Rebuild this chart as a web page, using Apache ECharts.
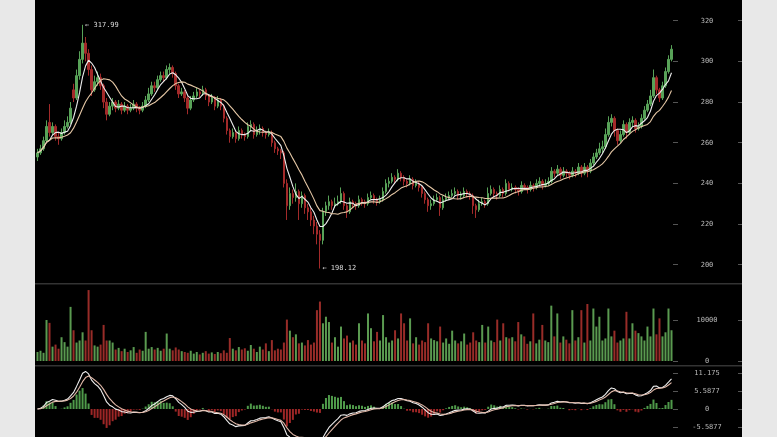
<!DOCTYPE html>
<html>
<head>
<meta charset="utf-8">
<script src="https://cdn.jsdelivr.net/npm/echarts@6.0.0/dist/echarts.min.js"></script>
<style>
html,body{margin:0;padding:0;background:#e8e8e8;width:777px;height:437px;overflow:hidden;}
#bg{position:absolute;left:35px;top:0;width:707px;height:437px;background:#000;}
#chart{position:absolute;left:0;top:0;width:777px;height:437px;}
</style>
</head>
<body>
<div id="bg"></div>
<div id="chart"></div>
<script>
const opens = [253,255,257,261,270,265,268,263,262,265,268,270,286,282,293,301,309,304,296,286,
290,292,288,280,274,278,280,277,279,276,278,276,277,279,277,276,278,281,284,288,
287,291,293,292,296,297,294,288,284,285,282,277,281,283,285,284,286,283,280,282,
278,281,278,272,266,263,265,262,266,264,263,268,269,264,266,267,265,264,265,260,
257,256,255,240,229,235,233,236,230,234,228,226,222,219,215,212,226,229,231,229,
230,231,235,229,226,231,230,229,232,231,230,233,234,232,231,232,236,240,241,243,
242,245,243,241,240,242,239,240,238,235,232,229,230,232,233,228,232,233,234,235,
236,234,234,236,235,234,229,227,230,231,230,235,237,235,234,237,235,240,237,238,
237,236,239,238,237,239,238,240,241,239,240,241,246,245,247,244,246,245,244,246,
245,248,245,248,246,250,253,255,257,258,264,270,272,266,261,264,269,265,270,271,
267,268,272,276,279,283,292,286,282,288,295,301];
const closes = [255,257,261,268,265,268,263,262,265,268,270,277,282,293,301,309,304,296,286,290,
292,288,280,274,278,280,277,279,276,278,276,277,279,277,276,278,281,284,288,287,
291,293,292,296,297,294,288,284,285,282,277,281,283,285,284,286,283,280,282,278,
281,278,272,266,263,265,262,266,264,263,268,269,264,266,267,265,264,265,260,257,
256,255,240,229,235,233,236,230,234,228,226,222,219,215,212,226,229,231,229,230,
231,235,229,226,231,230,229,232,231,230,233,234,232,231,232,236,240,241,243,242,
245,243,241,240,242,239,240,238,235,232,229,230,232,233,228,232,233,234,235,236,
234,234,236,235,234,229,227,230,231,230,235,237,235,234,237,235,240,237,238,237,
236,239,238,237,239,238,240,241,239,240,241,246,245,247,244,246,245,244,246,245,
248,245,248,246,250,253,255,257,258,264,270,272,266,261,264,269,265,270,271,267,
268,272,276,279,283,292,286,282,288,295,301,306];
const lows = [251,254,256,260,263,264,261,259,261,264,267,269,280,281,291,299,300,293,283,285,
288,286,277,271,273,276,275,276,274,275,274,275,276,275,274,275,277,280,283,285,
286,290,290,291,294,292,286,282,283,280,274,276,280,282,282,283,281,278,279,276,
277,276,270,264,260,262,260,261,262,261,262,266,262,263,264,263,262,263,258,255,
254,252,238,222,227,230,231,222,228,225,222,219,215,210,198.12,210,224,227,227,228,
229,230,227,223,225,228,227,228,229,228,229,232,230,229,230,231,235,238,240,240,
241,241,239,238,239,237,238,236,233,230,226,227,229,231,224,227,231,232,233,234,
232,232,233,233,232,225,223,226,229,228,229,234,233,232,233,233,234,236,236,235,
234,235,237,235,236,236,237,239,237,238,239,240,243,244,242,243,243,242,243,243,
244,243,244,243,245,249,252,254,255,257,263,268,263,259,260,263,262,264,268,265,
266,267,271,275,278,282,284,280,281,287,294,300];
const highs = [257,259,263,271,279,270,269,265,267,271,273,280,289,296,305,317.99,312,306,298,293,
295,294,289,282,280,282,281,281,280,280,279,279,281,280,278,280,283,287,290,290,
293,295,295,298,299,298,295,289,287,286,283,283,285,287,286,288,287,284,284,283,
283,282,279,273,267,267,266,268,267,265,270,271,270,268,269,268,266,267,266,261,
258,257,256,242,238,237,240,237,236,235,230,228,224,221,217,228,231,234,232,233,
234,238,236,230,233,232,231,234,233,232,235,236,235,233,234,238,242,243,245,244,
247,246,244,242,244,243,242,241,239,236,233,232,234,235,234,234,235,236,237,238,
237,236,238,237,236,235,230,232,233,232,238,239,238,236,239,238,242,241,240,239,
238,241,240,239,241,240,242,243,242,242,243,248,247,249,248,248,247,246,248,247,
250,249,250,249,252,255,257,260,261,267,273,274,273,267,266,271,270,272,273,272,
270,274,278,281,286,296,293,287,290,297,303,308];
const volumes = [2200,2500,2000,10000,9300,3500,4000,3000,5800,4600,3500,13200,7500,4500,5000,7000,5000,17300,7500,3800,
3500,4000,8800,5000,5000,4500,2800,3200,2400,3000,2200,2600,3400,2000,2800,2500,7100,3000,3400,2800,
3200,2500,3000,6700,3000,2600,3300,2800,2400,2200,2000,2500,1800,2200,1600,2000,2400,1800,2100,1700,
2200,1900,2600,2000,5600,3000,2600,3400,2800,3100,2500,3900,3000,2200,3500,2800,4300,2400,5100,2600,
3000,2800,4500,10100,7400,5800,6500,4300,4500,3800,5100,4000,4500,12400,14500,9200,10800,9500,4500,5800,
3500,8400,5500,6200,4500,5000,4000,9200,5000,4300,11600,8000,4800,7100,5000,11200,5800,4500,5000,7500,
5500,11600,9200,5000,10400,4300,5800,4000,5000,4600,9200,5500,5100,4800,8400,4500,5500,4200,7400,5000,
4300,4800,6700,4000,4500,7000,5000,4600,8800,4500,8400,5000,4600,10100,5000,9200,5800,5500,5800,4800,
9500,6500,6000,4200,4800,11600,4300,5200,8800,5000,4600,13500,6000,11600,4500,6000,5200,4300,12400,5000,
5800,12400,4500,13900,5000,12800,8400,10800,5000,5500,12800,6000,7400,4500,5000,5500,12000,5500,9200,7400,
6800,6000,5000,8400,6000,12800,6500,10400,6000,7000,12800,7500];
const priceTicks = [200,220,240,260,280,300,320];
const volumeTicks = [0,10000];
const macdTicks = [-5.5877,0,5.5877,11.175];
const macdTickLabels = ['-5.5877','0','5.5877','11.175'];
const categories = closes.map((_, i) => String(i + 1));

const UP = '#58a258', DOWN = '#a32a2a';
const candles = closes.map((c, i) => [opens[i], c, lows[i], highs[i]]);
const dirUp = closes.map((c, i) => c >= opens[i]);

function ma(n) {
  return closes.map((_, i) => {
    const s = Math.max(0, i - n + 1);
    let sum = 0;
    for (let k = s; k <= i; k++) sum += closes[k];
    return +(sum / (i - s + 1)).toFixed(2);
  });
}
function ema(arr, n) {
  const a = 2 / (n + 1); const out = [];
  arr.forEach((v, i) => out.push(i === 0 ? v : a * v + (1 - a) * out[i - 1]));
  return out;
}
const eFast = ema(closes, 8), eSlow = ema(closes, 17);
const dif = closes.map((_, i) => eFast[i] - eSlow[i]);
const dea = ema(dif, 4);
const hist = dif.map((d, i) => 2.5 * (d - dea[i]));

const mono = 'DejaVu Sans Mono';
const labelStyle = { color: '#b8b8b8', fontFamily: mono, fontSize: 7, align: 'center', margin: 34 };
function yPair(grid, min, max, ticks, fmt) {
  return [
    { type: 'value', gridIndex: grid, position: 'right', min: min, max: max, scale: true,
      axisLine: { show: false }, splitLine: { show: false },
      axisTick: { show: true, length: 5, customValues: ticks, lineStyle: { color: '#555' } },
      axisLabel: Object.assign({ customValues: ticks, formatter: fmt }, labelStyle) },
    { type: 'value', gridIndex: grid, position: 'right', offset: 65, min: min, max: max, scale: true,
      axisLine: { show: false }, splitLine: { show: false },
      axisTick: { show: true, length: 4, customValues: ticks, lineStyle: { color: '#555' } },
      axisLabel: { show: false } }
  ];
}
const xCommon = { type: 'category', data: categories, boundaryGap: true, show: false };

const chart = echarts.init(document.getElementById('chart'), null, { renderer: 'canvas' });
chart.setOption({
  animation: false,
  backgroundColor: 'transparent',
  grid: [
    { left: 36, right: 104, top: 0, height: 283 },
    { left: 36, right: 104, top: 285, height: 76 },
    { left: 36, right: 104, top: 367, height: 70 }
  ],
  xAxis: [
    Object.assign({ gridIndex: 0 }, xCommon),
    Object.assign({ gridIndex: 1 }, xCommon),
    Object.assign({ gridIndex: 2 }, xCommon)
  ],
  yAxis: [].concat(
    yPair(0, 191, 330.2, priceTicks, v => String(v)),
    yPair(1, 0, 18536, volumeTicks, v => String(v)),
    yPair(2, -8.69, 13.04, macdTicks, v => {
      let best = 0;
      macdTicks.forEach((t, i) => { if (Math.abs(t - v) < Math.abs(macdTicks[best] - v)) best = i; });
      return macdTickLabels[best];
    })
  ),
  graphic: [
    { type: 'rect', shape: { x: 35, y: 283, width: 707, height: 1.5 }, style: { fill: '#333' }, silent: true },
    { type: 'rect', shape: { x: 35, y: 365, width: 707, height: 1.5 }, style: { fill: '#333' }, silent: true }
  ],
  series: [
    { type: 'candlestick', xAxisIndex: 0, yAxisIndex: 0, data: candles, barWidth: 2,
      itemStyle: { color: UP, color0: DOWN, borderColor: UP, borderColor0: DOWN, borderWidth: 1 },
      markPoint: {
        symbol: 'circle', symbolSize: 1, itemStyle: { color: 'rgba(0,0,0,0)' },
        label: { show: true, position: 'right', distance: 2, color: '#dddddd', fontFamily: mono, fontSize: 7,
          formatter: p => '\u2190 ' + p.value },
        data: [ { type: 'max', valueDim: 'highest' }, { type: 'min', valueDim: 'lowest' } ]
      }
    },
    { type: 'line', xAxisIndex: 0, yAxisIndex: 0, data: ma(5), symbol: 'none', smooth: false,
      lineStyle: { color: '#eeeeee', width: 1.1 } },
    { type: 'line', xAxisIndex: 0, yAxisIndex: 0, data: ma(12), symbol: 'none', smooth: false,
      lineStyle: { color: '#e6c8a6', width: 1.1 } },
    { type: 'bar', xAxisIndex: 1, yAxisIndex: 2, data: volumes, barWidth: 2,
      itemStyle: { color: p => dirUp[p.dataIndex] ? '#5a9a50' : '#982c28' } },
    { type: 'bar', xAxisIndex: 2, yAxisIndex: 4, data: hist.map(v => +v.toFixed(3)), barWidth: 2,
      itemStyle: { color: p => p.value >= 0 ? '#4f9a4a' : '#9e2626' } },
    { type: 'line', xAxisIndex: 2, yAxisIndex: 4, data: dif.map(v => +v.toFixed(3)), symbol: 'none',
      lineStyle: { color: '#eeeeee', width: 1.1 } },
    { type: 'line', xAxisIndex: 2, yAxisIndex: 4, data: dea.map(v => +v.toFixed(3)), symbol: 'none',
      lineStyle: { color: '#e0b8a8', width: 1.1 } }
  ]
});
</script>
</body>
</html>
